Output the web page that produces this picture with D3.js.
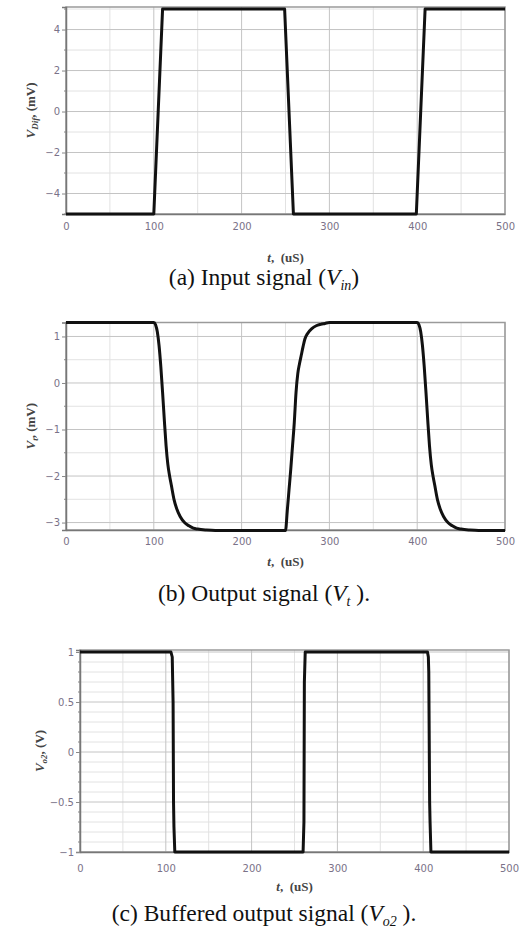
<!DOCTYPE html>
<html><head><meta charset="utf-8">
<script src="https://cdn.jsdelivr.net/npm/d3@7/dist/d3.min.js"></script>
<style>
html,body{margin:0;padding:0;background:#fff;}
svg{display:block;}
</style></head>
<body>
<svg id="c" width="528" height="937"></svg>
<script>
// ---------- data ----------
const xTicks = [0, 100, 200, 300, 400, 500];
const xMinor = [50, 150, 250, 350, 450];

// (a) input signal
const tA = [0, 100, 110, 249, 259, 399, 409, 500];
const vA = [-5, -5, 5, 5, -5, -5, 5, 5];
const yTicksA = [-4, -2, 0, 2, 4];
const yMinorA = [-5, -3, -1, 1, 3, 5];

// (b) output signal
const tB = [0, 100, 102, 104, 106, 108, 110, 112, 114, 116, 118, 120, 123, 126, 130, 135, 140, 145, 150, 160, 170,
            249, 250, 252, 254, 256, 258, 260, 262, 264, 266, 268, 270, 272, 275, 280, 285, 290, 295, 300,
            400, 402, 404, 406, 408, 410, 412, 414, 416, 418, 420, 423, 426, 430, 435, 440, 445, 450, 460, 470, 500];
const vB = [1.3, 1.3, 1.25, 1.1, 0.8, 0.35, -0.2, -0.8, -1.35, -1.75, -2.0, -2.2, -2.5, -2.7, -2.87, -3.0, -3.07, -3.12, -3.14, -3.16, -3.17,
            -3.17, -3.17, -2.75, -2.3, -1.85, -1.35, -0.85, -0.2, 0.2, 0.42, 0.6, 0.78, 0.94, 1.06, 1.17, 1.23, 1.26, 1.28, 1.3,
            1.3, 1.25, 1.1, 0.8, 0.35, -0.2, -0.8, -1.35, -1.75, -2.0, -2.2, -2.5, -2.7, -2.87, -3.0, -3.07, -3.12, -3.14, -3.16, -3.17, -3.17];
const yTicksB = [-3, -2, -1, 0, 1];
const yMinorB = [-2.5, -1.5, -0.5, 0.5];

// (c) buffered output signal
const tC = [0, 106, 107.5, 108.5, 109, 109.5, 110.5, 260, 261, 261.5, 262.5, 405, 406, 406.5, 407.5, 408, 409, 500];
const vC = [1, 1, 0.95, 0.5, -0.5, -0.75, -1, -1, -0.7, 0.7, 1, 1, 0.95, 0.8, -0.5, -0.7, -1, -1];
const yTicksC = [-1, -0.5, 0, 0.5, 1];
const yMinorC = [-0.9, -0.8, -0.7, -0.6, -0.4, -0.3, -0.2, -0.1, 0.1, 0.2, 0.3, 0.4, 0.6, 0.7, 0.8, 0.9];

// ---------- drawing ----------
const svg = d3.select("#c");

function panel(cfg) {
  const x = d3.scaleLinear().domain([0, 500]).range([cfg.x0, cfg.x1]);
  const y = d3.scaleLinear().domain(cfg.yDomain).range([cfg.y0, cfg.y1]);
  const g = svg.append("g");

  // minor grid
  g.selectAll(null).data(xMinor).enter().append("line")
    .attr("x1", d => x(d)).attr("x2", d => x(d)).attr("y1", cfg.y0).attr("y2", cfg.y1)
    .attr("stroke", "#e2e2e2").attr("stroke-width", 1);
  g.selectAll(null).data(cfg.yMinor).enter().append("line")
    .attr("x1", cfg.x0).attr("x2", cfg.x1).attr("y1", d => y(d)).attr("y2", d => y(d))
    .attr("stroke", "#e2e2e2").attr("stroke-width", 1);
  // major grid
  g.selectAll(null).data(xTicks).enter().append("line")
    .attr("x1", d => x(d)).attr("x2", d => x(d)).attr("y1", cfg.y0).attr("y2", cfg.y1)
    .attr("stroke", "#c4c4c4").attr("stroke-width", 1);
  g.selectAll(null).data(cfg.yTicks).enter().append("line")
    .attr("x1", cfg.x0).attr("x2", cfg.x1).attr("y1", d => y(d)).attr("y2", d => y(d))
    .attr("stroke", "#c4c4c4").attr("stroke-width", 1);

  // frame
  g.append("rect").attr("x", cfg.x0).attr("y", cfg.y1).attr("width", cfg.x1 - cfg.x0).attr("height", cfg.y0 - cfg.y1)
    .attr("fill", "none").attr("stroke", "#9a9a9a").attr("stroke-width", 1.5);

  // axes
  const xa = g.append("g").attr("transform", `translate(0,${cfg.y0})`)
    .call(d3.axisBottom(x).tickValues(xTicks).tickSize(0).tickPadding(cfg.xPad).tickFormat(d3.format("d")));
  xa.select(".domain").attr("stroke", "#777").attr("stroke-width", 1.5);
  xa.selectAll("text").attr("font-family", "DejaVu Sans, sans-serif").attr("font-size", 10).attr("fill", "#7a7288");

  const ya = g.append("g").attr("transform", `translate(${cfg.x0},0)`)
    .call(d3.axisLeft(y).tickValues(cfg.yTicks).tickSize(4).tickPadding(2)
      .tickFormat(d => d < 0 ? "\u2212" + Math.abs(d) : String(d)));
  ya.select(".domain").attr("stroke", "#777").attr("stroke-width", 1.5);
  ya.selectAll("line").attr("stroke", "#888");
  ya.selectAll("text").attr("font-family", "DejaVu Sans, sans-serif").attr("font-size", 10).attr("fill", "#7a7288");

  // minor tick marks on y axis
  g.selectAll(null).data(cfg.yMinor).enter().append("line")
    .attr("x1", cfg.x0 - 2).attr("x2", cfg.x0).attr("y1", d => y(d)).attr("y2", d => y(d))
    .attr("stroke", "#888");

  // signal
  const pts = cfg.t.map((t, i) => [t, cfg.v[i]]);
  g.append("path").datum(pts)
    .attr("d", d3.line().x(d => x(d[0])).y(d => y(d[1])).curve(cfg.curve || d3.curveLinear))
    .attr("fill", "none").attr("stroke", "#111").attr("stroke-width", 3)
    .attr("stroke-linejoin", "round");

  // x axis title
  const xt = g.append("text").attr("x", (cfg.x0 + cfg.x1) / 2).attr("y", cfg.y0 + cfg.xTitleOff)
    .attr("text-anchor", "middle").attr("font-family", "Liberation Serif, serif")
    .attr("font-weight", "bold").attr("font-size", 13).attr("fill", "#444");
  xt.append("tspan").attr("font-style", "italic").text("t");
  xt.append("tspan").text(",\u00a0\u00a0(uS)");

  // y axis title
  const cy = (cfg.y0 + cfg.y1) / 2;
  const yt = g.append("text").attr("transform", `translate(${cfg.ylabX},${cy}) rotate(-90)`)
    .attr("text-anchor", "middle").attr("font-family", "Liberation Serif, serif")
    .attr("font-weight", "bold").attr("font-size", 13).attr("fill", "#444");
  yt.append("tspan").attr("font-style", "italic").text("V");
  yt.append("tspan").attr("font-style", "italic").attr("font-size", 9).attr("dy", 3).text(cfg.ysub);
  yt.append("tspan").attr("dy", -3).text(cfg.yunit);

  // caption
  const cap = svg.append("text").attr("x", 264).attr("y", cfg.capY).attr("text-anchor", "middle")
    .attr("font-family", "Liberation Serif, Times New Roman, serif").attr("font-size", 23.5).attr("fill", "#111");
  cap.append("tspan").text(cfg.capPre);
  cap.append("tspan").attr("font-style", "italic").text("V");
  cap.append("tspan").attr("font-style", "italic").attr("font-size", 14).attr("dy", 5).text(cfg.capSub);
  cap.append("tspan").attr("dy", -5).text(cfg.capPost);
}

panel({x0: 66, x1: 505, y0: 214, y1: 7, yDomain: [-5, 5.1], yTicks: yTicksA, yMinor: yMinorA,
  t: tA, v: vA, ylabX: 35, ysub: "Dif", yunit: ",\u00a0(mV)", xPad: 9, xTitleOff: 48,
  capY: 285, capPre: "(a) Input signal (", capSub: "in", capPost: ")"});

panel({x0: 66, x1: 505, y0: 530, y1: 322.5, yDomain: [-3.16, 1.3], yTicks: yTicksB, yMinor: yMinorB,
  t: tB, v: vB, ylabX: 35, ysub: "t", yunit: ",\u00a0(mV)", curve: d3.curveMonotoneX, xPad: 8, xTitleOff: 36,
  capY: 601, capPre: "(b) Output signal (", capSub: "t", capPost: "\u00a0)."});

panel({x0: 80, x1: 509, y0: 852, y1: 650, yDomain: [-1, 1.02], yTicks: yTicksC, yMinor: yMinorC,
  t: tC, v: vC, ylabX: 44, ysub: "o2", yunit: ",\u00a0(V)", xPad: 13, xTitleOff: 39,
  capY: 921, capPre: "(c) Buffered output signal (", capSub: "o2", capPost: "\u00a0)."});
</script>
</body></html>
